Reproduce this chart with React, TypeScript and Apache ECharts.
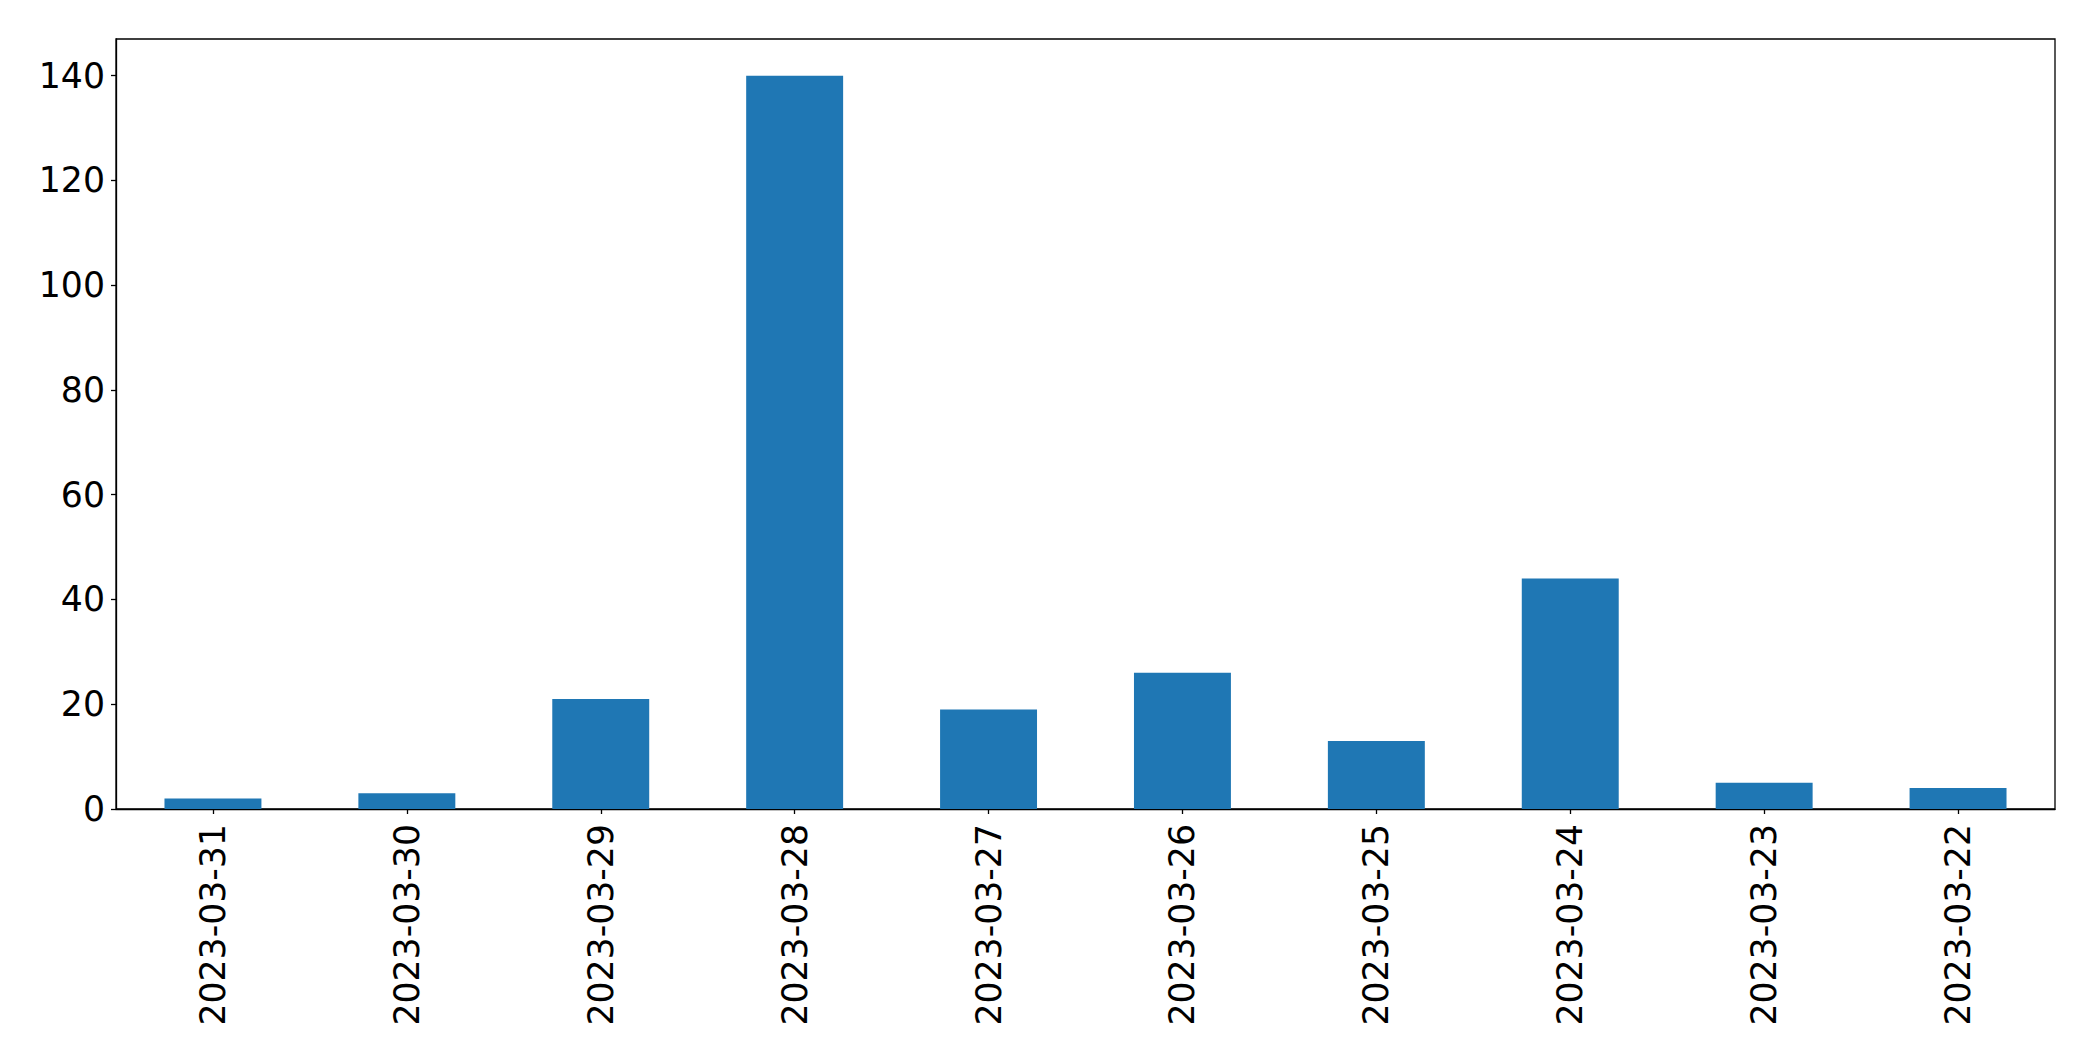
import React, { useEffect, useRef } from "react";
import * as echarts from "echarts";

const categories = [
  "2023-03-31",
  "2023-03-30",
  "2023-03-29",
  "2023-03-28",
  "2023-03-27",
  "2023-03-26",
  "2023-03-25",
  "2023-03-24",
  "2023-03-23",
  "2023-03-22",
];
const counts = [2, 3, 21, 140, 19, 26, 13, 44, 5, 4];
const yMin = 0;
const yMax = 147;
const yInterval = 20;

const FONT = "'DejaVu Sans', sans-serif";

export default function App() {
  const ref = useRef<HTMLDivElement>(null);
  useEffect(() => {
    document.body.style.margin = "0";
    if (!ref.current) return;
    const chart = echarts.init(ref.current, null, { renderer: "svg" });
    chart.setOption({
      animation: false,
      backgroundColor: "#ffffff",
      grid: {
        left: 116,
        top: 39,
        right: 38,
        bottom: 252,
        containLabel: false,
        show: true,
        borderColor: "#000000",
        borderWidth: 1.3,
        backgroundColor: "transparent",
      },
      xAxis: {
        type: "category",
        data: categories,
        boundaryGap: true,
        axisLine: { show: true, lineStyle: { color: "#000000", width: 1.3 } },
        axisTick: {
          show: true,
          alignWithLabel: true,
          length: 5,
          lineStyle: { color: "#000000", width: 1.3 },
        },
        axisLabel: {
          rotate: 90,
          margin: 15,
          color: "#000000",
          fontSize: 34.7,
          fontFamily: FONT,
          interval: 0,
        },
        splitLine: { show: false },
      },
      yAxis: {
        type: "value",
        min: yMin,
        max: yMax,
        interval: yInterval,
        axisLine: { show: true, lineStyle: { color: "#000000", width: 1.3 } },
        axisTick: {
          show: true,
          length: 5,
          lineStyle: { color: "#000000", width: 1.3 },
        },
        axisLabel: {
          margin: 11,
          color: "#000000",
          fontSize: 34.7,
          fontFamily: FONT,
          showMaxLabel: false,
        },
        splitLine: { show: false },
      },
      series: [
        {
          type: "bar",
          data: counts,
          barWidth: "50%",
          itemStyle: { color: "#1f77b4" },
        },
      ],
    });
    return () => chart.dispose();
  }, []);
  return (
    <div
      ref={ref}
      style={{ position: "absolute", left: 0, top: 0, width: 2093, height: 1061 }}
    />
  );
}
